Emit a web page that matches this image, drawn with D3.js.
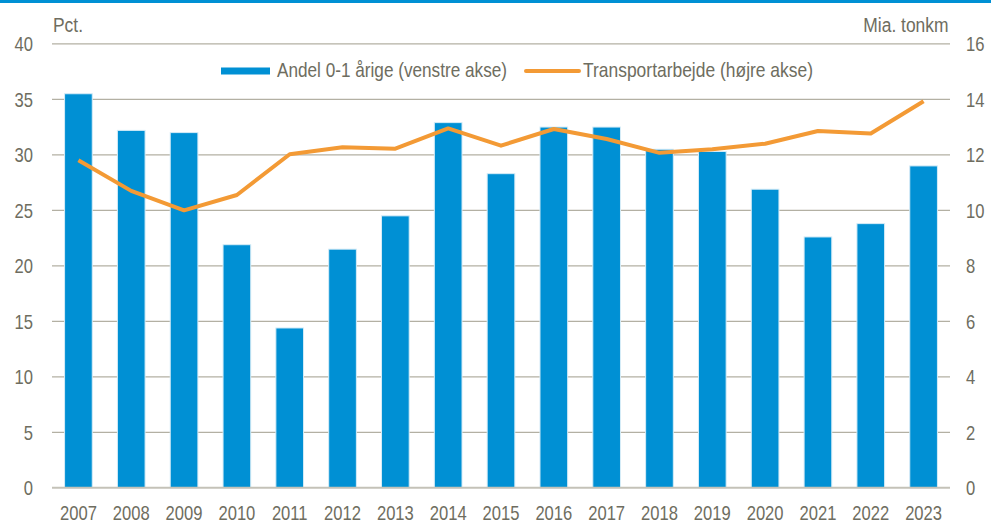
<!DOCTYPE html>
<html><head><meta charset="utf-8">
<script src="https://cdn.jsdelivr.net/npm/d3@7"></script>
<style>
html,body{margin:0;padding:0;background:#fff;}
svg text{font-family:'Liberation Sans','Arial',sans-serif;fill:#6e6d60;}
</style></head>
<body>
<svg id="c" width="991" height="523"></svg>
<script>
const years = ["2007","2008","2009","2010","2011","2012","2013","2014","2015","2016","2017","2018","2019","2020","2021","2022","2023"];
const andel = [35.5,32.2,32.0,21.9,14.4,21.5,24.5,32.9,28.3,32.5,32.5,30.5,30.3,26.9,22.6,23.8,29.0];
const transport = [11.8,10.7,10.0,10.55,12.02,12.27,12.22,12.95,12.33,12.93,12.57,12.07,12.2,12.4,12.86,12.77,13.93];
const leftTicks = [0,5,10,15,20,25,30,35,40];
const rightTicks = [0,2,4,6,8,10,12,14,16];
const legendLabels = ["Andel 0-1 årige (venstre akse)","Transportarbejde (højre akse)"];
const leftUnit = "Pct.";
const rightUnit = "Mia. tonkm";

const blue = "#0090d4", orange = "#f39a35";
const SX = 0.83;
const svg = d3.select("#c");
const L = 52, R = 950, T = 43.8, B = 487.8;

const x = d3.scaleBand().domain(years).range([L, R]).paddingInner(0.476).paddingOuter(0.238);
const yL = d3.scaleLinear().domain([0,40]).range([B, T]);
const yR = d3.scaleLinear().domain([0,16]).range([B, T]);

// top rule
svg.append("rect").attr("x",0).attr("y",0).attr("width",991).attr("height",3).attr("fill",blue);

// gridlines
svg.append("g").selectAll("line").data(leftTicks.filter(d=>d>0)).join("line")
  .attr("x1",L).attr("x2",R).attr("y1",d=>yL(d)).attr("y2",d=>yL(d))
  .attr("stroke","#b3b0a3").attr("stroke-width",1.3);

// bars
svg.append("g").selectAll("rect").data(years).join("rect")
  .attr("x",d=>x(d)).attr("width",x.bandwidth())
  .attr("y",(d,i)=>yL(andel[i])).attr("height",(d,i)=>B-yL(andel[i]))
  .attr("fill",blue).attr("stroke","#d6ecf7").attr("stroke-width",1);

// zero line
svg.append("line").attr("x1",L).attr("x2",R).attr("y1",B).attr("y2",B)
  .attr("stroke","#c4c2b8").attr("stroke-width",2);

// line
const line = d3.line().x((d,i)=>x(years[i])+x.bandwidth()/2).y(d=>yR(d));
svg.append("path").datum(transport).attr("d",line).attr("fill","none")
  .attr("stroke",orange).attr("stroke-width",4).attr("stroke-linejoin","round");

function styleTicks(g){
  g.select(".domain").remove();
  g.attr("font-family",null).attr("font-size",null);
  g.selectAll("text").attr("font-size",20).attr("fill","#6e6d60")
    .attr("transform",`scale(${SX},1)`);
}
// left axis
const gL = svg.append("g").attr("transform",`translate(33,0)`)
  .call(d3.axisLeft(yL).tickValues(leftTicks).tickSize(0).tickPadding(0));
styleTicks(gL);
gL.selectAll("text").attr("dy","0.35em");

const gR = svg.append("g").attr("transform",`translate(966,0)`)
  .call(d3.axisRight(yR).tickValues(rightTicks).tickSize(0).tickPadding(0));
styleTicks(gR);
gR.selectAll("text").attr("dy","0.35em");

const gB = svg.append("g").attr("transform",`translate(0,${B})`)
  .call(d3.axisBottom(x).tickSize(0).tickPadding(0));
styleTicks(gB);
gB.selectAll("text").attr("y",32).attr("dy",0);

function label(txt, px, py, size, anchor){
  const g = svg.append("g").attr("transform",`translate(${px},${py})`);
  g.append("text").attr("font-size",size).attr("text-anchor",anchor||"start")
    .attr("transform",`scale(${SX},1)`).text(txt);
  return g;
}
// units
label(leftUnit, 53, 32, 21);
label(rightUnit, 948.5, 32, 21, "end");

// legend
const lg = svg.append("g");
lg.append("rect").attr("x",221).attr("y",67.5).attr("width",49).attr("height",7).attr("fill",blue);
lg.append("text").attr("x",277).attr("y",77).attr("font-size",21)
  .attr("textLength",230).attr("lengthAdjust","spacingAndGlyphs").text(legendLabels[0]);
lg.append("line").attr("x1",526).attr("x2",579).attr("y1",71).attr("y2",71).attr("stroke",orange).attr("stroke-width",4).attr("stroke-linecap","round");
lg.append("text").attr("x",583).attr("y",77).attr("font-size",21)
  .attr("textLength",230).attr("lengthAdjust","spacingAndGlyphs").text(legendLabels[1]);
</script>
</body></html>
